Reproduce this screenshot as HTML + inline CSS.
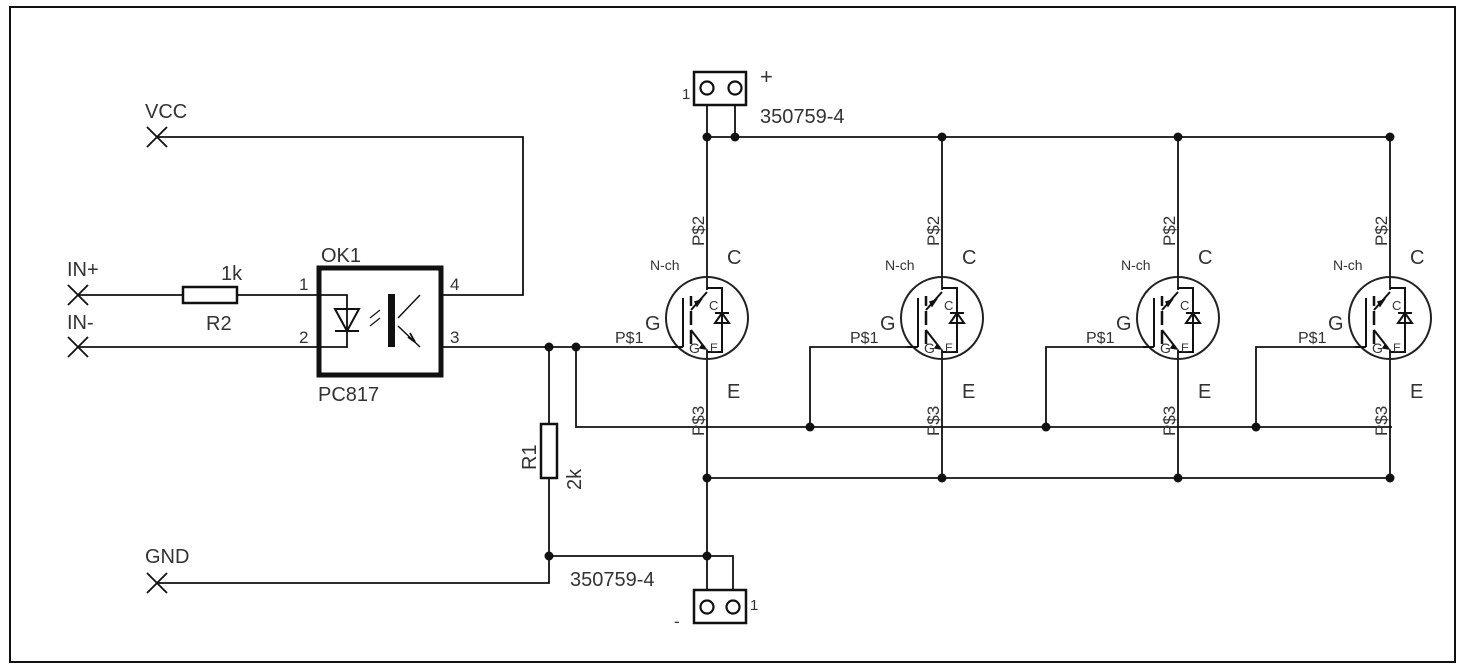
<!DOCTYPE html>
<html><head><meta charset="utf-8"><style>
html,body{margin:0;padding:0;background:#fff;}
svg{display:block;}
text{font-family:"Liberation Sans",sans-serif;fill:#333;}
</style></head><body>
<svg width="1465" height="668" viewBox="0 0 1465 668" xmlns="http://www.w3.org/2000/svg">
<defs>
<g id="igbt">
 <circle cx="0" cy="318" r="41" fill="none" stroke="#222" stroke-width="2"/>
 <path d="M0 288 H15 V352 H0" fill="none" stroke="#111" stroke-width="2"/>
 <path d="M8 313 H22 M15 313 L8 323 H22 Z" fill="none" stroke="#111" stroke-width="2"/>
 <line x1="-24" y1="298" x2="-24" y2="347" stroke="#111" stroke-width="2"/>
 <path d="M-16 296 V306 M-16 311 V325 M-16 330 V344" stroke="#111" stroke-width="2.5"/>
 <path d="M-16 310 L0 292 M-16 330 L-2 348" stroke="#111" stroke-width="2" fill="none"/>
 <path d="M-12 302 L-6 300 L-10 306 Z M-5 345 L-1 349 L-7 348 Z" fill="#111" stroke="#111" stroke-width="1.5"/>
 <text x="-18" y="353" font-size="14" fill="#999">G</text>
 <text x="2" y="310" font-size="13" fill="#999">C</text>
 <text x="3" y="352" font-size="12" fill="#999">E</text>
 <line x1="-35" y1="347" x2="-24" y2="347" stroke="#111" stroke-width="2"/>
 <text x="-57" y="270" font-size="14">N-ch</text>
 <text x="20" y="264" font-size="20">C</text>
 <text x="20" y="398" font-size="20">E</text>
 <text x="-62" y="330" font-size="20">G</text>
 <text x="-92" y="343" font-size="16">P$1</text>
 <text transform="translate(-3,246) rotate(-90)" font-size="17">P$2</text>
 <text transform="translate(-3,436) rotate(-90)" font-size="17">P$3</text>
</g>
</defs>
<rect x="10" y="7" width="1445" height="655" fill="none" stroke="#111" stroke-width="2"/>
<g stroke="#111" stroke-width="1.8" fill="none">
 <path d="M147 127 L167 147 M167 127 L147 147"/>
 <path d="M68 285 L88 305 M88 285 L68 305"/>
 <path d="M68 337 L88 357 M88 337 L68 357"/>
 <path d="M147 573 L167 593 M167 573 L147 593"/>
 <path d="M157 137 H523 V295 H441"/>
 <path d="M78 295 H183 M237 295 H319"/>
 <path d="M78 347 H319"/>
 <path d="M441 347 H672"/>
 <path d="M549 347 V424 M549 478 V556"/>
 <path d="M157 583 H549 V556 H707"/>
 <path d="M576 347 V427 H1392"/>
 <path d="M810 427 V347 H907"/>
 <path d="M1046 427 V347 H1143"/>
 <path d="M1256 427 V347 H1355"/>
 <path d="M707 94 V290 M735 94 V137 M707 137 H1390"/>
 <path d="M942 137 V290 M1178 137 V290 M1390 137 V290"/>
 <path d="M707 350 V600 M942 350 V478 M1178 350 V478 M1390 350 V478 M707 478 H1390"/>
 <path d="M707 556 H733 V600"/>
 <path d="M319 295 H347 V347 H319"/>
 <path d="M335 309 H359 L347 331 Z M335 331 H359" stroke-width="2"/>
 <path d="M420 295 L398 318 M398 326 L420 347" stroke-width="1.5"/>
 <path d="M370 318 L380 310 M370 326 L380 318" stroke-width="1.2"/>
 <path d="M408 337 L415 342 L410 333"/>
</g>
<rect x="183" y="287" width="54" height="16" fill="#fff" stroke="#111" stroke-width="2.5"/>
<rect x="541" y="424" width="16" height="54" fill="#fff" stroke="#111" stroke-width="2.5"/>
<rect x="319" y="268" width="122" height="107" fill="none" stroke="#111" stroke-width="5"/>
<rect x="388" y="294" width="7" height="53" fill="#111"/>
<rect x="694" y="72" width="52" height="33" fill="#fff" stroke="#111" stroke-width="2.5"/>
<circle cx="707" cy="88" r="6.5" fill="#fff" stroke="#111" stroke-width="2.2"/>
<circle cx="735" cy="88" r="6.5" fill="#fff" stroke="#111" stroke-width="2.2"/>
<rect x="694" y="590" width="52" height="33" fill="#fff" stroke="#111" stroke-width="2.5"/>
<circle cx="707" cy="607" r="6.5" fill="#fff" stroke="#111" stroke-width="2.2"/>
<circle cx="733" cy="607" r="6.5" fill="#fff" stroke="#111" stroke-width="2.2"/>
<g fill="#111">
 <circle cx="549" cy="347" r="4.5"/><circle cx="576" cy="347" r="4.5"/>
 <circle cx="549" cy="556" r="4.5"/><circle cx="707" cy="556" r="4.5"/>
 <circle cx="707" cy="137" r="4.5"/><circle cx="735" cy="137" r="4.5"/>
 <circle cx="942" cy="137" r="4.5"/><circle cx="1178" cy="137" r="4.5"/><circle cx="1390" cy="137" r="4.5"/>
 <circle cx="707" cy="478" r="4.5"/><circle cx="942" cy="478" r="4.5"/><circle cx="1178" cy="478" r="4.5"/><circle cx="1390" cy="478" r="4.5"/>
 <circle cx="810" cy="427" r="4.5"/><circle cx="1046" cy="427" r="4.5"/><circle cx="1256" cy="427" r="4.5"/>
</g>
<use href="#igbt" x="707" y="0"/>
<use href="#igbt" x="942" y="0"/>
<use href="#igbt" x="1178" y="0"/>
<use href="#igbt" x="1390" y="0"/>
<g font-size="20">
<text x="145" y="118">VCC</text>
<text x="67" y="276">IN+</text>
<text x="67" y="329">IN-</text>
<text x="145" y="563">GND</text>
<text x="221" y="280">1k</text>
<text x="206" y="330">R2</text>
<text x="321" y="262">OK1</text>
<text x="318" y="401">PC817</text>
<text x="760" y="123">350759-4</text>
<text x="570" y="586">350759-4</text>
<text transform="translate(536,470) rotate(-90)">R1</text>
<text transform="translate(581,490) rotate(-90)">2k</text>
</g>
<g font-size="17">
<text x="299" y="290">1</text><text x="299" y="343">2</text>
<text x="450" y="290">4</text><text x="450" y="343">3</text>
<text x="760" y="84" font-size="22">+</text>
<text x="682" y="99" font-size="15">1</text>
<text x="750" y="610" font-size="15">1</text>
<text x="674" y="627">-</text>
</g>
</svg>
</body></html>
